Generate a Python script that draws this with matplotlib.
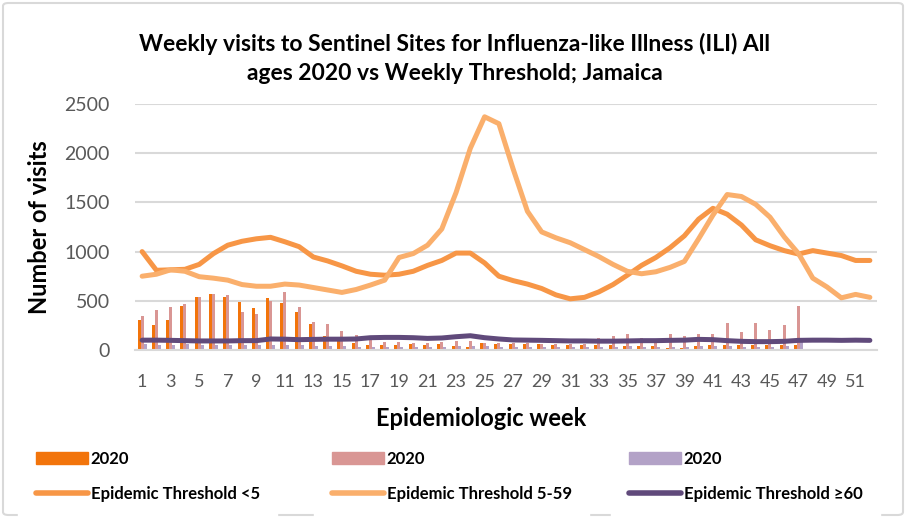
import numpy as np
import matplotlib
matplotlib.use("Agg")
import matplotlib.pyplot as plt
from matplotlib.patches import FancyBboxPatch, Patch
from matplotlib.lines import Line2D

plt.rcParams["font.family"] = ["Lato", "DejaVu Sans"]

weeks = np.arange(1, 53)
bar_weeks = np.arange(1, 48)

# weekly visits 2020 (three age groups), weeks 1-47
visits_lt5 = [306, 255, 306, 449, 541, 568, 541, 490, 428, 530, 473, 384, 269, 143, 90, 75,
              51, 51, 51, 61, 48, 61, 41, 34, 68, 58, 58, 58, 58, 51, 51, 51, 51, 51, 44, 44,
              44, 24, 24, 44, 51, 51, 51, 48, 48, 48, 51]
visits_5_59 = [347, 408, 432, 466, 541, 568, 558, 384, 367, 503, 592, 439, 286, 262, 194, 153,
               146, 85, 85, 75, 68, 78, 92, 92, 68, 68, 68, 68, 58, 58, 58, 58, 123, 143, 160, 123,
               110, 160, 143, 160, 163, 272, 180, 272, 204, 255, 449]
visits_60 = [60, 55, 55, 58, 55, 55, 55, 52, 50, 55, 55, 50, 45, 40, 38, 30,
             35, 34, 35, 32, 30, 35, 38, 40, 36, 34, 32, 32, 30, 30, 32, 30, 35, 34, 36, 32,
             32, 34, 35, 36, 38, 36, 34, 35, 34, 36, 123]

# weekly thresholds
thr_lt5 = [1000, 810, 815, 820, 870, 980, 1065, 1105, 1130, 1145, 1100, 1050, 945, 905, 855, 800,
           770, 760, 770, 800, 860, 910, 985, 985, 885, 750, 705, 670, 625, 560, 520, 535,
           590, 665, 760, 860, 940, 1040, 1160, 1330, 1440, 1380, 1270, 1120, 1060, 1010, 975, 1010,
           985, 960, 910, 910]
thr_5_59 = [750, 770, 815, 800, 745, 730, 710, 665, 648, 648, 670, 660, 635, 610, 585, 615,
            660, 710, 940, 980, 1065, 1230, 1600, 2050, 2370, 2300, 1840, 1410, 1200, 1140, 1090, 1020,
            950, 870, 800, 775, 795, 840, 900, 1130, 1370, 1580, 1560, 1480, 1350, 1150, 980, 730,
            640, 530, 565, 535]
thr_60 = [100, 100, 98, 95, 92, 92, 92, 95, 95, 112, 110, 105, 108, 110, 110, 112,
          125, 128, 128, 125, 118, 122, 135, 145, 125, 112, 102, 100, 98, 95, 92, 92,
          90, 90, 92, 95, 95, 98, 100, 108, 105, 95, 88, 85, 85, 88, 98, 100,
          100, 98, 100, 98]

c_bar1 = "#F2740B"
c_bar2 = "#D99694"
c_bar3 = "#B3A2C7"
c_line1 = "#F79646"
c_line2 = "#FAAF6C"
c_line3 = "#604A7B"

fig = plt.figure(figsize=(9.06, 5.18), dpi=100)
ax = fig.add_axes([135 / 906, 1 - 350 / 518, 742 / 906, 246 / 518])

w = 0.21
ax.bar(bar_weeks - w, visits_lt5, width=w, color=c_bar1, zorder=2)
ax.bar(bar_weeks, visits_5_59, width=w, color=c_bar2, zorder=2)
ax.bar(bar_weeks + w, visits_60, width=w, color=c_bar3, zorder=2)

ax.plot(weeks, thr_lt5, color=c_line1, lw=3.6, solid_capstyle="round", zorder=3)
ax.plot(weeks, thr_5_59, color=c_line2, lw=3.6, solid_capstyle="round", zorder=3)
ax.plot(weeks, thr_60, color=c_line3, lw=3.6, solid_capstyle="round", zorder=4)

ax.set_xlim(0.5, 52.5)
ax.set_ylim(0, 2500)
ax.set_yticks(range(0, 2501, 500))
ax.set_xticks(range(1, 53, 2))
ax.grid(axis="y", color="#D9D9D9", lw=1.5, zorder=0)
for s in ["top", "right", "left"]:
    ax.spines[s].set_visible(False)
ax.spines["bottom"].set_color("#D9D9D9")
ax.spines["bottom"].set_linewidth(1.5)
ax.tick_params(length=0, colors="#595959", labelsize=14)
ax.tick_params(axis="x", labelsize=13, pad=17)
ax.tick_params(axis="y", pad=18)

ax.set_ylabel("Number of visits", fontsize=17, fontweight="bold", labelpad=10)
# x label sits partly under the legend, as in the original
fig.text(481 / 906, 1 - 418 / 518, "Epidemiologic week", ha="center", va="center",
         fontsize=17, fontweight="bold", zorder=0)

fig.text(0.502, 1 - 44 / 518, "Weekly visits to Sentinel Sites for Influenza-like Illness (ILI) All",
         ha="center", va="center", fontsize=16.5, fontweight="bold")
fig.text(0.502, 1 - 74 / 518, "ages 2020 vs Weekly Threshold; Jamaica",
         ha="center", va="center", fontsize=16.5, fontweight="bold")

# legends, one column each
groups = [
    (c_bar1, c_line1, "Epidemic Threshold <5", 10),
    (c_bar2, c_line2, "Epidemic Threshold 5-59", 306),
    (c_bar3, c_line3, "Epidemic Threshold \u226560", 603),
]
for bc, lc, lab, xpx in groups:
    hs = [Patch(color=bc), Line2D([0], [0], color=lc, lw=4, solid_capstyle="round")]
    leg = fig.legend(hs, ["2020", lab], loc="upper left",
                     bbox_to_anchor=(xpx / 906, 1 - 425 / 518),
                     frameon=True, facecolor="white", edgecolor="white", framealpha=1,
                     prop={"weight": "bold", "size": 12}, handlelength=3.1, handleheight=0.75,
                     labelspacing=1.15, handletextpad=0.2, borderpad=1.05)
    leg.set_zorder(10)

fig.patches.append(FancyBboxPatch((3 / 906, 3 / 518), 900 / 906, 512 / 518,
                                  boxstyle="round,pad=0,rounding_size=0.006",
                                  transform=fig.transFigure, fill=False,
                                  edgecolor="#D9D9D9", lw=1.5))

fig.savefig("out.png", dpi=100)
